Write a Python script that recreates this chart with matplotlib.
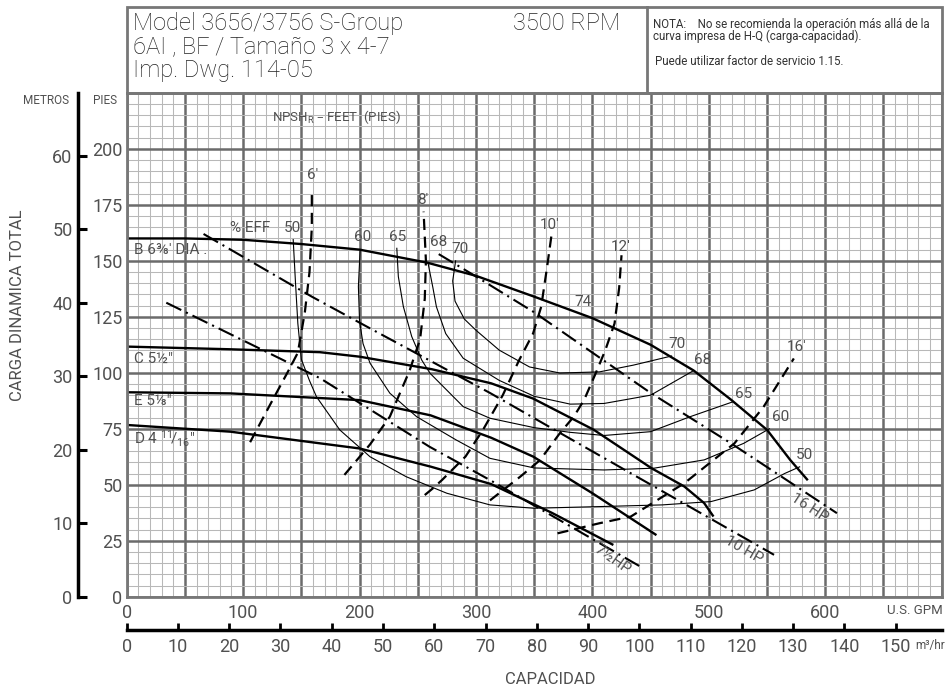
import matplotlib
matplotlib.use("Agg")
import matplotlib.pyplot as plt
from matplotlib.patches import Rectangle
from matplotlib.lines import Line2D
from matplotlib.ticker import MultipleLocator, FuncFormatter

plt.rcParams["font.family"] = ["Roboto", "DejaVu Sans"]

# ---- data (GPM, feet) ----
head_B_q = [0, 50, 100, 150, 200, 258, 300, 350, 400, 450, 487, 519, 550, 570, 585]
head_B_h = [160, 160, 159.4, 157.5, 155, 149.2, 143.3, 134, 124.4, 112.5, 101, 88, 74.5, 61, 52]
head_C_q = [0, 89, 166, 200, 262, 313, 349, 401, 451, 479, 496, 504]
head_C_h = [111.7, 110.5, 109.2, 107.2, 101.6, 95.3, 88.5, 74.6, 57.3, 49.2, 41.8, 35.8]
head_E_q = [0, 89, 200, 261, 313, 349, 400, 455]
head_E_h = [91.3, 90.8, 87.8, 81, 71, 62.6, 46.2, 27.5]
head_D_q = [0, 89, 200, 261, 313, 365, 418]
head_D_h = [76.7, 73.7, 66.2, 58.1, 50.3, 37.5, 23.1]

hp16_q = [268, 300, 350, 450, 519, 610]
hp16_h = [153, 143, 127, 91, 68.5, 37.3]
hp10_q = [66, 159, 212, 312, 375, 556]
hp10_h = [162, 134, 119, 91, 72.3, 18.7]
hp75_q = [34, 166, 260, 312, 441]
hp75_h = [131.3, 97.6, 67, 52.1, 13.5]

npsh6_q = [106, 123, 139, 147, 153, 157, 159, 159]
npsh6_h = [69, 85.6, 101, 109, 127, 145, 165, 182]
npsh8_q = [187, 209, 226, 243, 252, 256, 257, 255]
npsh8_h = [54.4, 68, 80.4, 101, 115, 133, 150, 172]
npsh10_q = [256, 263, 271, 291, 306, 323, 337, 349, 356, 361, 365]
npsh10_h = [45.4, 48.4, 52.2, 62.6, 74.5, 90, 105.6, 117.5, 129.5, 147, 162]
npsh12_q = [312, 338, 355, 372, 384, 393, 403, 411, 419, 423, 425]
npsh12_h = [43, 53.6, 61, 73, 80.4, 88, 100, 110, 122, 138, 152.5]
npsh16_q = [370, 406, 433, 479, 522, 547, 573]
npsh16_h = [28.3, 32.8, 35.8, 50.7, 68.5, 84.8, 106.4]

eff50_q = [143, 145, 147, 150, 157, 163, 183, 209, 240, 275, 312, 350, 410, 460, 502, 539, 565, 578]
eff50_h = [159.5, 140, 122, 106, 96.5, 89.3, 74.5, 62.5, 53.6, 46.2, 41, 39.5, 40.3, 41, 42.5, 47.7, 55, 58]
eff60_q = [200.5, 199, 200, 203, 209, 226, 249, 283, 312, 350, 410, 453, 496, 530, 552]
eff60_h = [155, 138.5, 123, 113, 104.3, 90.9, 80.4, 70, 61.8, 57.5, 56.6, 57.4, 61.1, 68.5, 75]
eff65_q = [232, 233.3, 237.6, 244.8, 253.4, 260.5, 289, 312, 350, 381, 410, 450, 484, 521]
eff65_h = [155.6, 143, 129.6, 116.2, 105.7, 99.8, 84.9, 79.7, 75.5, 73.4, 72, 73.7, 80.4, 87.1]
eff68_q = [259, 263, 266, 274, 289, 320, 350, 381, 410, 450, 487]
eff68_h = [148.5, 138, 129.5, 117.5, 106.5, 96.6, 89.5, 86, 86.3, 90, 101]
eff70_q = [282.5, 280, 282, 290, 300, 320, 346, 372, 406, 435, 468]
eff70_h = [150, 141, 132, 124, 119, 110.1, 102.6, 99.9, 100.4, 103.4, 107.5]

gpm_ticks = [0, 100, 200, 300, 400, 500, 600]
ft_ticks = [0, 25, 50, 75, 100, 125, 150, 175, 200]
m_ticks = [0, 10, 20, 30, 40, 50, 60]
m3h_ticks = list(range(0, 160, 10))

GPM_PER_M3H = 4.40287
M_PER_FT = 0.3048

# ---- figure layout (pixel based) ----
W, H = 952, 694
fig = plt.figure(figsize=(9.52, 6.94), dpi=100)


def fx(px):
    return px / W


def fy(py):
    return 1 - py / H


L, R, T, B = 126.7, 941.7, 92.9, 596.7
TXT = "#505050"

ax = fig.add_axes([fx(L), fy(B), (R - L) / W, (B - T) / H])
ax.set_xlim(0, 700)
ax.set_ylim(0, 225)
ax.xaxis.set_major_locator(MultipleLocator(50))
ax.xaxis.set_minor_locator(MultipleLocator(10))
ax.yaxis.set_major_locator(MultipleLocator(25))
ax.yaxis.set_minor_locator(MultipleLocator(5))
ax.xaxis.set_major_formatter(FuncFormatter(lambda v, p: f"{v:.0f}" if round(v) in gpm_ticks else ""))
ax.yaxis.set_major_formatter(FuncFormatter(lambda v, p: f"{v:.0f}" if round(v) in ft_ticks else ""))
ax.grid(which="minor", color="#b8b8b8", lw=0.75)
ax.grid(which="major", color="#6b6b6b", lw=1.8)
ax.set_axisbelow(True)
ax.tick_params(which="both", length=0, labelsize=13, labelcolor=TXT)
ax.tick_params(axis="x", pad=5)
ax.tick_params(axis="y", pad=3)
for s in ax.spines.values():
    s.set_color("#777777")
    s.set_linewidth(2)

# head curves
for q, h in [(head_B_q, head_B_h), (head_C_q, head_C_h), (head_E_q, head_E_h), (head_D_q, head_D_h)]:
    ax.plot(q, h, color="black", lw=1.7, solid_capstyle="butt", solid_joinstyle="round")

# efficiency contours
for q, h in [(eff50_q, eff50_h), (eff60_q, eff60_h), (eff65_q, eff65_h), (eff68_q, eff68_h), (eff70_q, eff70_h)]:
    ax.plot(q, h, color="black", lw=0.8, solid_joinstyle="round")

# horsepower lines
for q, h in [(hp16_q, hp16_h), (hp10_q, hp10_h), (hp75_q, hp75_h)]:
    ax.plot(q, h, color="black", lw=1.5, linestyle=(0, (8, 2.5, 1, 2.5)))

# NPSH lines
for q, h in [(npsh6_q, npsh6_h), (npsh8_q, npsh8_h), (npsh10_q, npsh10_h), (npsh12_q, npsh12_h), (npsh16_q, npsh16_h)]:
    ax.plot(q, h, color="black", lw=1.6, linestyle=(0, (5, 3)))

# labels inside plot
lab = dict(color=TXT, fontsize=11)
ax.text(6, 155, "B 6⅜' DIA .", va="center", ha="left", **lab)
ax.text(6, 106, "C 5½\"", va="center", ha="left", **lab)
ax.text(6, 87.6, "E 5⅛\"", va="center", ha="left", **lab)
ax.text(6, 70.3, "D 4 $\\mathregular{^{11}\\!/_{16}}$\"", va="center", ha="left", **lab)

ax.text(89, 164.6, "% EFF", va="center", ha="left", **lab)
for x, y, s in [(142, 164.6, "50"), (202.4, 160.5, "60"), (232.4, 160.5, "65"), (268.2, 158.6, "68"),
                (286.3, 155.2, "70"), (392.3, 131.7, "74"), (472.9, 112.8, "70"), (494.4, 105.9, "68"),
                (530.2, 90.5, "65"), (561.7, 80.1, "60"), (581.8, 63.3, "50")]:
    ax.text(x, y, s, va="center", ha="center", **lab)

for x, y, s in [(159.7, 188.3, "6'"), (254.7, 177.2, "8'"), (363, 166, "10'"), (424.3, 156.4, "12'"),
                (575, 111.6, "16'")]:
    ax.text(x, y, s, va="center", ha="center", **lab)

ax.text(124.6, 214.2, "NPSH$_\\mathregular{R}$ – FEET  (PIES)", va="center", ha="left",
        color=TXT, fontsize=9.5)

ax.text(586, 39.6, "16 HP", rotation=-33, va="center", ha="center", **lab)
ax.text(530, 21, "10 HP", rotation=-30, va="center", ha="center", **lab)
ax.text(417, 16.5, "7½HP", rotation=-35, va="center", ha="center", **lab)

# meters axis on the left
axm = fig.add_axes([fx(78), fy(B), 0.01, (B - T) / H])
axm.set_ylim(0, 225 * M_PER_FT)
axm.set_yticks(m_ticks)
axm.patch.set_visible(False)
for k in ("top", "right", "bottom"):
    axm.spines[k].set_visible(False)
axm.spines["left"].set_linewidth(2.5)
axm.spines["left"].set_color("black")
axm.xaxis.set_visible(False)
axm.tick_params(axis="y", direction="in", length=6.5, width=2.2, color="black",
                labelsize=13, labelcolor=TXT, pad=4)

# m3/hr axis at the bottom
axq = fig.add_axes([fx(L), fy(630), (R - L) / W, 0.01])
axq.set_xlim(0, 700 / GPM_PER_M3H)
axq.set_xticks(m3h_ticks)
axq.patch.set_visible(False)
for k in ("top", "right", "left"):
    axq.spines[k].set_visible(False)
axq.spines["bottom"].set_linewidth(2.5)
axq.spines["bottom"].set_color("black")
axq.yaxis.set_visible(False)
axq.tick_params(axis="x", direction="in", length=5, width=2, color="black",
                labelsize=13, labelcolor=TXT, pad=6)

# header box
fig.add_artist(Rectangle((fx(L), fy(T)), (R - L) / W, (T - 7) / H,
                         transform=fig.transFigure, fill=False, ec="#777777", lw=2))
fig.add_artist(Line2D([fx(647), fx(647)], [fy(7), fy(T)], transform=fig.transFigure,
                      color="#777777", lw=2))
hdr = dict(color="#222222", fontsize=17, fontweight="light", va="baseline", ha="left")
fig.text(fx(133), fy(30), "Model 3656/3756 S-Group", **hdr)
fig.text(fx(133), fy(53), "6AI , BF / Tamaño 3 x 4-7", **hdr)
fig.text(fx(133), fy(77), "Imp. Dwg. 114-05", **hdr)
fig.text(fx(513), fy(30), "3500 RPM", **hdr)
nota = dict(color="#333333", fontsize=8.3, va="baseline", ha="left")
fig.text(fx(653), fy(28), "NOTA:    No se recomienda la operación más allá de la", **nota)
fig.text(fx(653), fy(40), "curva impresa de H-Q (carga-capacidad).", **nota)
fig.text(fx(655), fy(65), "Puede utilizar factor de servicio 1.15.", **nota)

# axis captions
cap = dict(color=TXT, ha="center", va="center")
fig.text(fx(46), fy(100), "METROS", fontsize=8.5, **cap)
fig.text(fx(105), fy(100), "PIES", fontsize=8.5, **cap)
fig.text(fx(18), fy(305), "CARGA DINAMICA TOTAL", fontsize=12, rotation=90, **cap)
fig.text(fx(915), fy(610), "U.S. GPM", fontsize=9.5, **cap)
fig.text(fx(930), fy(646), "m³/hr", fontsize=8.5, **cap)
fig.text(fx(550), fy(680), "CAPACIDAD", fontsize=12, **cap)

fig.savefig("out.png", dpi=100)
